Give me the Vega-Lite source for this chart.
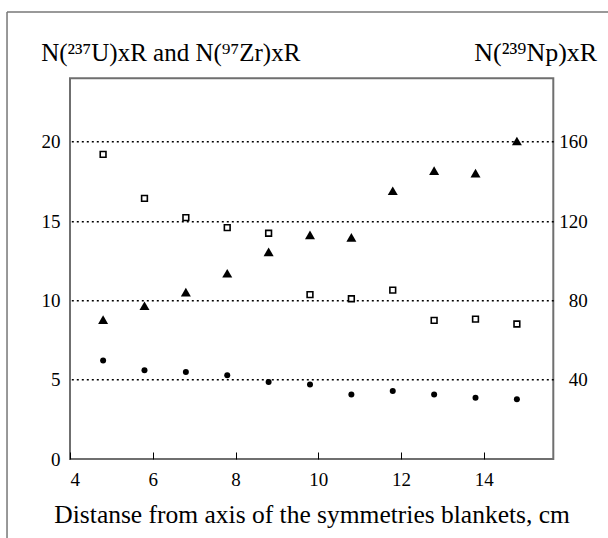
{
  "$schema": "https://vega.github.io/schema/vega-lite/v6.json",
  "autosize": "none",
  "width": 483.3,
  "height": 380.7,
  "padding": {"left": 70, "top": 78.3, "right": 54.7, "bottom": 79},
  "background": "white",
  "config": {
    "font": "Liberation Serif",
    "view": {"stroke": "#6f6f6f", "strokeWidth": 2},
    "style": {"guide-label": {"font": "Liberation Serif", "fill": "black"}, "guide-title": {"font": "Liberation Serif", "fill": "black"}},
    "axis": {"labelFont": "Liberation Serif", "titleFont": "Liberation Serif", "labelColor": "black", "titleColor": "black", "titleFontWeight": "normal"}
  },
  "datasets": {
    "pts": [
      {"x": 4.8, "series": "U237", "v": 19.2},
      {"x": 5.8, "series": "U237", "v": 16.43},
      {"x": 6.8, "series": "U237", "v": 15.22},
      {"x": 7.8, "series": "U237", "v": 14.59},
      {"x": 8.8, "series": "U237", "v": 14.23},
      {"x": 9.8, "series": "U237", "v": 10.36},
      {"x": 10.8, "series": "U237", "v": 10.1},
      {"x": 11.8, "series": "U237", "v": 10.65},
      {"x": 12.8, "series": "U237", "v": 8.74},
      {"x": 13.8, "series": "U237", "v": 8.82},
      {"x": 14.8, "series": "U237", "v": 8.51},
      {"x": 4.8, "series": "Zr97", "v": 6.21},
      {"x": 5.8, "series": "Zr97", "v": 5.6},
      {"x": 6.8, "series": "Zr97", "v": 5.49},
      {"x": 7.8, "series": "Zr97", "v": 5.28},
      {"x": 8.8, "series": "Zr97", "v": 4.86},
      {"x": 9.8, "series": "Zr97", "v": 4.7},
      {"x": 10.8, "series": "Zr97", "v": 4.07},
      {"x": 11.8, "series": "Zr97", "v": 4.28},
      {"x": 12.8, "series": "Zr97", "v": 4.07},
      {"x": 13.8, "series": "Zr97", "v": 3.86},
      {"x": 14.8, "series": "Zr97", "v": 3.77},
      {"x": 4.8, "series": "Np239", "v": 70.3},
      {"x": 5.8, "series": "Np239", "v": 77.3},
      {"x": 6.8, "series": "Np239", "v": 84.2},
      {"x": 7.8, "series": "Np239", "v": 93.7},
      {"x": 8.8, "series": "Np239", "v": 104.5},
      {"x": 9.8, "series": "Np239", "v": 113},
      {"x": 10.8, "series": "Np239", "v": 111.8},
      {"x": 11.8, "series": "Np239", "v": 135.3},
      {"x": 12.8, "series": "Np239", "v": 145.4},
      {"x": 13.8, "series": "Np239", "v": 144.2},
      {"x": 14.8, "series": "Np239", "v": 160.4}
    ]
  },
  "data": {"name": "pts"},
  "resolve": {"scale": {"y": "independent"}},
  "layer": [
    {
      "layer": [
        {
          "data": {"values": [{}]},
          "mark": {"type": "rule", "stroke": "#777777", "strokeWidth": 1.5, "clip": false},
          "encoding": {
            "x": {"datum": 2.478, "type": "quantitative"},
            "x2": {"datum": 20},
            "y": {"datum": 28.18, "type": "quantitative"}
          }
        },
        {
          "data": {"values": [{}]},
          "mark": {"type": "rule", "stroke": "#777777", "strokeWidth": 1.5, "clip": false},
          "encoding": {
            "x": {"datum": 2.478, "type": "quantitative"},
            "y": {"datum": 28.18, "type": "quantitative"},
            "y2": {"datum": -10}
          }
        },
        {
          "transform": [{"filter": "datum.series === 'U237'"}],
          "mark": {"type": "point", "shape": "square", "filled": true, "fill": "white", "stroke": "black", "strokeWidth": 1.6, "size": 33, "opacity": 1},
          "encoding": {
            "x": {"field": "x", "type": "quantitative"},
            "y": {"field": "v", "type": "quantitative"}
          }
        },
        {
          "transform": [{"filter": "datum.series === 'Zr97'"}],
          "mark": {"type": "point", "shape": "circle", "filled": true, "color": "black", "size": 36, "opacity": 1},
          "encoding": {
            "x": {"field": "x", "type": "quantitative"},
            "y": {"field": "v", "type": "quantitative"}
          }
        }
      ],
      "encoding": {
        "x": {
          "type": "quantitative",
          "scale": {"domain": [4, 15.68], "nice": false, "zero": false},
          "axis": {
            "orient": "bottom",
            "values": [4, 6, 8, 10, 12, 14],
            "domain": false,
            "grid": false,
            "ticks": true,
            "tickSize": -7,
            "tickColor": "black",
            "tickWidth": 1,
            "labelFont": "Liberation Serif",
            "labelFontSize": 19,
            "labelPadding": 18,
            "title": "Distanse from axis of the symmetries blankets, cm",
            "titleFont": "Liberation Serif",
            "titleFontSize": 25.5,
            "titleBaseline": "alphabetic",
            "titleY": 63.7
          }
        },
        "y": {
          "type": "quantitative",
          "scale": {"domain": [0, 24], "nice": false},
          "axis": {
            "orient": "left",
            "values": [0, 5, 10, 15, 20],
            "domain": false,
            "grid": false,
            "ticks": false,
            "labelFont": "Liberation Serif",
            "labelFontSize": 19,
            "labelPadding": 10,
            "title": "N(²³⁷U)xR and N(⁹⁷Zr)xR",
            "titleFont": "Liberation Serif",
            "titleFontSize": 25,
            "titleAngle": 0,
            "titleAlign": "left",
            "titleBaseline": "alphabetic",
            "titleX": -29.3,
            "titleY": -18.3
          }
        }
      }
    },
    {
      "transform": [{"filter": "datum.series === 'Np239'"}],
      "mark": {"type": "point", "shape": "triangle-up", "filled": true, "color": "black", "size": 100, "opacity": 1},
      "encoding": {
        "x": {"field": "x", "type": "quantitative"},
        "y": {
          "field": "v",
          "type": "quantitative",
          "scale": {"domain": [0, 192], "nice": false},
          "axis": {
            "orient": "right",
            "values": [40, 80, 120, 160],
            "domain": false,
            "grid": true,
            "gridColor": "black",
            "gridDash": [2, 3],
            "gridWidth": 1.5,
            "ticks": false,
            "labelFont": "Liberation Serif",
            "labelFontSize": 19,
            "labelAlign": "right",
            "labelPadding": 34,
            "title": "N(²³⁹Np)xR",
            "titleFont": "Liberation Serif",
            "titleFontSize": 26,
            "titleAngle": 0,
            "titleAlign": "right",
            "titleBaseline": "alphabetic",
            "titleX": 43.4,
            "titleY": -18.3
          }
        }
      }
    }
  ]
}
